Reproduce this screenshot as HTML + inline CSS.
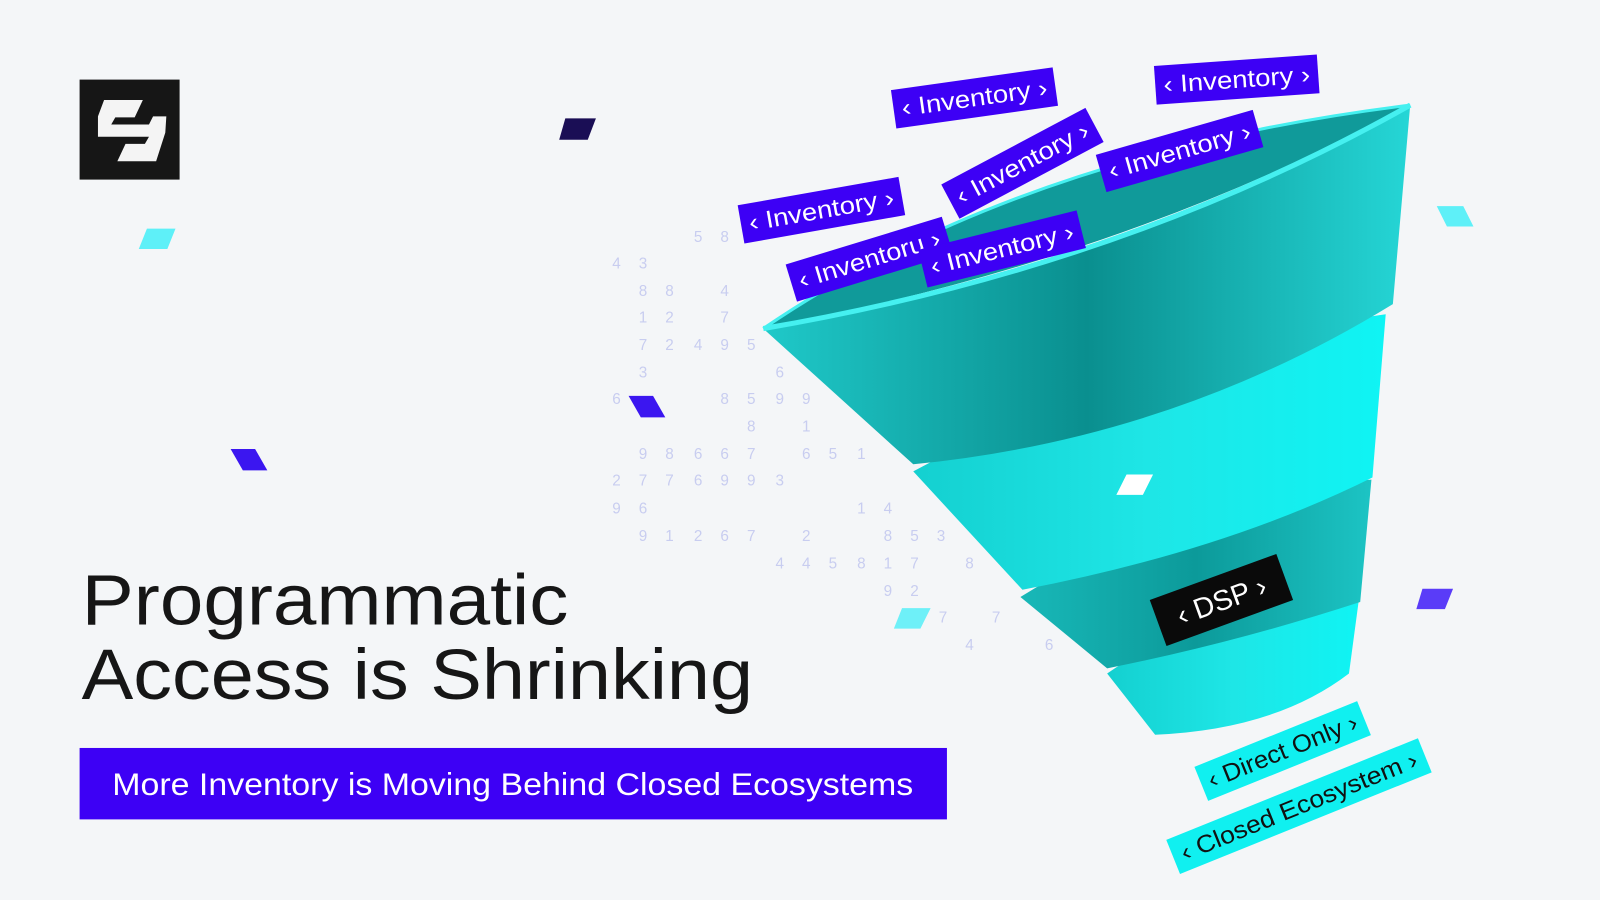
<!DOCTYPE html>
<html><head><meta charset="utf-8"><style>
html,body{margin:0;padding:0;background:#f4f6f8;width:1600px;height:900px;overflow:hidden}
svg{display:block}
text{font-family:"Liberation Sans",sans-serif}
</style></head><body>
<svg width="1600" height="900" viewBox="0 0 1568 882" preserveAspectRatio="none" xmlns="http://www.w3.org/2000/svg">
<defs>
<linearGradient id="g1" x1="0" y1="0" x2="1" y2="0"><stop offset="0" stop-color="#1fc9c9"/><stop offset="0.5" stop-color="#0a8f8f"/><stop offset="1" stop-color="#25d6d6"/></linearGradient>
<linearGradient id="g2" x1="0" y1="0" x2="1" y2="0"><stop offset="0" stop-color="#14d0d0"/><stop offset="0.5" stop-color="#1ee6e6"/><stop offset="1" stop-color="#0ff4f4"/></linearGradient>
<linearGradient id="g3" x1="0" y1="0" x2="1" y2="0"><stop offset="0" stop-color="#18b8b8"/><stop offset="0.5" stop-color="#0c9a9a"/><stop offset="1" stop-color="#1cc4c4"/></linearGradient>
</defs>
<rect width="1568" height="882" fill="#f4f6f8"/>
<g fill="#c8cdf0" font-size="15">
<text x="600" y="263">4</text><text x="626" y="263">3</text><text x="680" y="237">5</text><text x="706" y="237">8</text><text x="732" y="237">5</text>
<text x="626" y="290">8</text><text x="652" y="290">8</text><text x="706" y="290">4</text>
<text x="626" y="316">1</text><text x="652" y="316">2</text><text x="706" y="316">7</text>
<text x="626" y="343">7</text><text x="652" y="343">2</text><text x="680" y="343">4</text><text x="706" y="343">9</text><text x="732" y="343">5</text>
<text x="626" y="370">3</text><text x="760" y="370">6</text>
<text x="600" y="396">6</text><text x="706" y="396">8</text><text x="732" y="396">5</text><text x="760" y="396">9</text><text x="786" y="396">9</text>
<text x="732" y="423">8</text><text x="786" y="423">1</text>
<text x="626" y="450">9</text><text x="652" y="450">8</text><text x="680" y="450">6</text><text x="706" y="450">6</text><text x="732" y="450">7</text><text x="786" y="450">6</text><text x="812" y="450">5</text><text x="840" y="450">1</text>
<text x="600" y="476">2</text><text x="626" y="476">7</text><text x="652" y="476">7</text><text x="680" y="476">6</text><text x="706" y="476">9</text><text x="732" y="476">9</text><text x="760" y="476">3</text>
<text x="600" y="503">9</text><text x="626" y="503">6</text><text x="840" y="503">1</text><text x="866" y="503">4</text>
<text x="626" y="530">9</text><text x="652" y="530">1</text><text x="680" y="530">2</text><text x="706" y="530">6</text><text x="732" y="530">7</text><text x="786" y="530">2</text><text x="866" y="530">8</text><text x="892" y="530">5</text><text x="918" y="530">3</text>
<text x="760" y="557">4</text><text x="786" y="557">4</text><text x="812" y="557">5</text><text x="840" y="557">8</text><text x="866" y="557">1</text><text x="892" y="557">7</text><text x="946" y="557">8</text>
<text x="866" y="584">9</text><text x="892" y="584">2</text><text x="920" y="610">7</text><text x="972" y="610">7</text><text x="946" y="637">4</text><text x="1024" y="637">6</text>
</g>
<!-- logo -->
<rect x="78" y="78" width="98" height="98" fill="#161616"/>
<path d="M102 98 H140 L132 115 H113 L109 122 H146 L150 114 H163 L162 130 L153 158 H115 L123 141 H142 L146 134 H96 V114 Z" fill="#f4f4f4"/>
<!-- deco -->
<polygon points="554,116 584,116 576,137 548,137" fill="#1a0e55"/>
<polygon points="144,224 172,224 164,244 136,244" fill="#5ef0f8"/>
<polygon points="616,388 640,388 652,409 628,409" fill="#3b16f0"/>
<polygon points="226,440 250,440 262,461 238,461" fill="#3b16f0"/>
<polygon points="1408,202 1434,202 1444,222 1418,222" fill="#5ef0f8"/>
<polygon points="1394,577 1424,577 1416,597 1388,597" fill="#5a3cf8"/>
<polygon points="884,596 912,596 902,616 876,616" fill="#6ef0f8"/>
<!-- funnel -->
<path d="M1085 660 Q1210 575 1333 578 L1322 660 Q1250 715 1132 720 Z" fill="url(#g2)"/>
<path d="M1000 585 Q1170 480 1344 470 L1333 590 Q1210 630 1085 655 Z" fill="url(#g3)"/>
<path d="M895 462 Q1120 340 1358 308 L1345 468 Q1200 540 1002 578 Z" fill="url(#g2)"/>
<path d="M748 322 Q1000 150 1382 103 Q1100 255 748 322 Z" fill="#109a9a"/>
<path d="M748 322 Q1100 262 1382 103 L1365 298 Q1150 430 895 455 Z" fill="url(#g1)"/>
<path d="M748 322 Q1100 262 1382 103" fill="none" stroke="#45f0f0" stroke-width="5"/>
<path d="M748 322 Q1000 150 1382 103" fill="none" stroke="#45f0f0" stroke-width="3"/>
<polygon points="1104,465 1130,465 1120,485 1094,485" fill="#fff"/>
<!-- labels -->
<g font-size="24" fill="#fff">
<g transform="translate(955,96) rotate(-8)"><rect x="-80" y="-19" width="160" height="38" fill="#3d00f5"/><text x="-72" y="8" textLength="144" lengthAdjust="spacingAndGlyphs">‹ Inventory ›</text></g>
<g transform="translate(1212,78) rotate(-4)"><rect x="-80" y="-19" width="160" height="38" fill="#3d00f5"/><text x="-72" y="8" textLength="144" lengthAdjust="spacingAndGlyphs">‹ Inventory ›</text></g>
<g transform="translate(805,206) rotate(-10)"><rect x="-80" y="-19" width="160" height="38" fill="#3d00f5"/><text x="-72" y="8" textLength="144" lengthAdjust="spacingAndGlyphs">‹ Inventory ›</text></g>
<g transform="translate(1002,160) rotate(-28)"><rect x="-80" y="-19" width="160" height="38" fill="#3d00f5"/><text x="-72" y="8" textLength="144" lengthAdjust="spacingAndGlyphs">‹ Inventory ›</text></g>
<g transform="translate(1156,148) rotate(-16)"><rect x="-80" y="-19" width="160" height="38" fill="#3d00f5"/><text x="-72" y="8" textLength="144" lengthAdjust="spacingAndGlyphs">‹ Inventory ›</text></g>
<g transform="translate(852,254) rotate(-17)"><rect x="-80" y="-19" width="160" height="38" fill="#3d00f5"/><text x="-72" y="8" textLength="144" lengthAdjust="spacingAndGlyphs">‹ Inventoru ›</text></g>
<g transform="translate(982,244) rotate(-14)"><rect x="-80" y="-19" width="160" height="38" fill="#3d00f5"/><text x="-72" y="8" textLength="144" lengthAdjust="spacingAndGlyphs">‹ Inventory ›</text></g>
<g transform="translate(1197,588) rotate(-20)"><rect x="-66" y="-24" width="132" height="48" fill="#0a0a0a"/><text x="0" y="10" text-anchor="middle" font-size="28" font-family="Liberation Mono">‹ DSP ›</text></g>
<g transform="translate(1257,736) rotate(-22)"><rect x="-86" y="-18" width="172" height="36" fill="#10f0f0"/><text x="-78" y="8" fill="#111" textLength="156" lengthAdjust="spacingAndGlyphs">‹ Direct Only ›</text></g>
<g transform="translate(1273,790) rotate(-22)"><rect x="-133" y="-18" width="266" height="36" fill="#10f0f0"/><text x="-124" y="8" fill="#111" textLength="248" lengthAdjust="spacingAndGlyphs">‹ Closed Ecosystem ›</text></g>
</g>
<!-- title -->
<text x="80" y="612" font-size="70" fill="#161616" textLength="477" lengthAdjust="spacingAndGlyphs">Programmatic</text>
<text x="80" y="685" font-size="70" fill="#161616" textLength="658" lengthAdjust="spacingAndGlyphs">Access is Shrinking</text>
<rect x="78" y="733" width="850" height="70" fill="#3d00f5"/>
<text x="110" y="779" font-size="31" fill="#fff" textLength="785" lengthAdjust="spacingAndGlyphs">More Inventory is Moving Behind Closed Ecosystems</text>
</svg>
</body></html>
